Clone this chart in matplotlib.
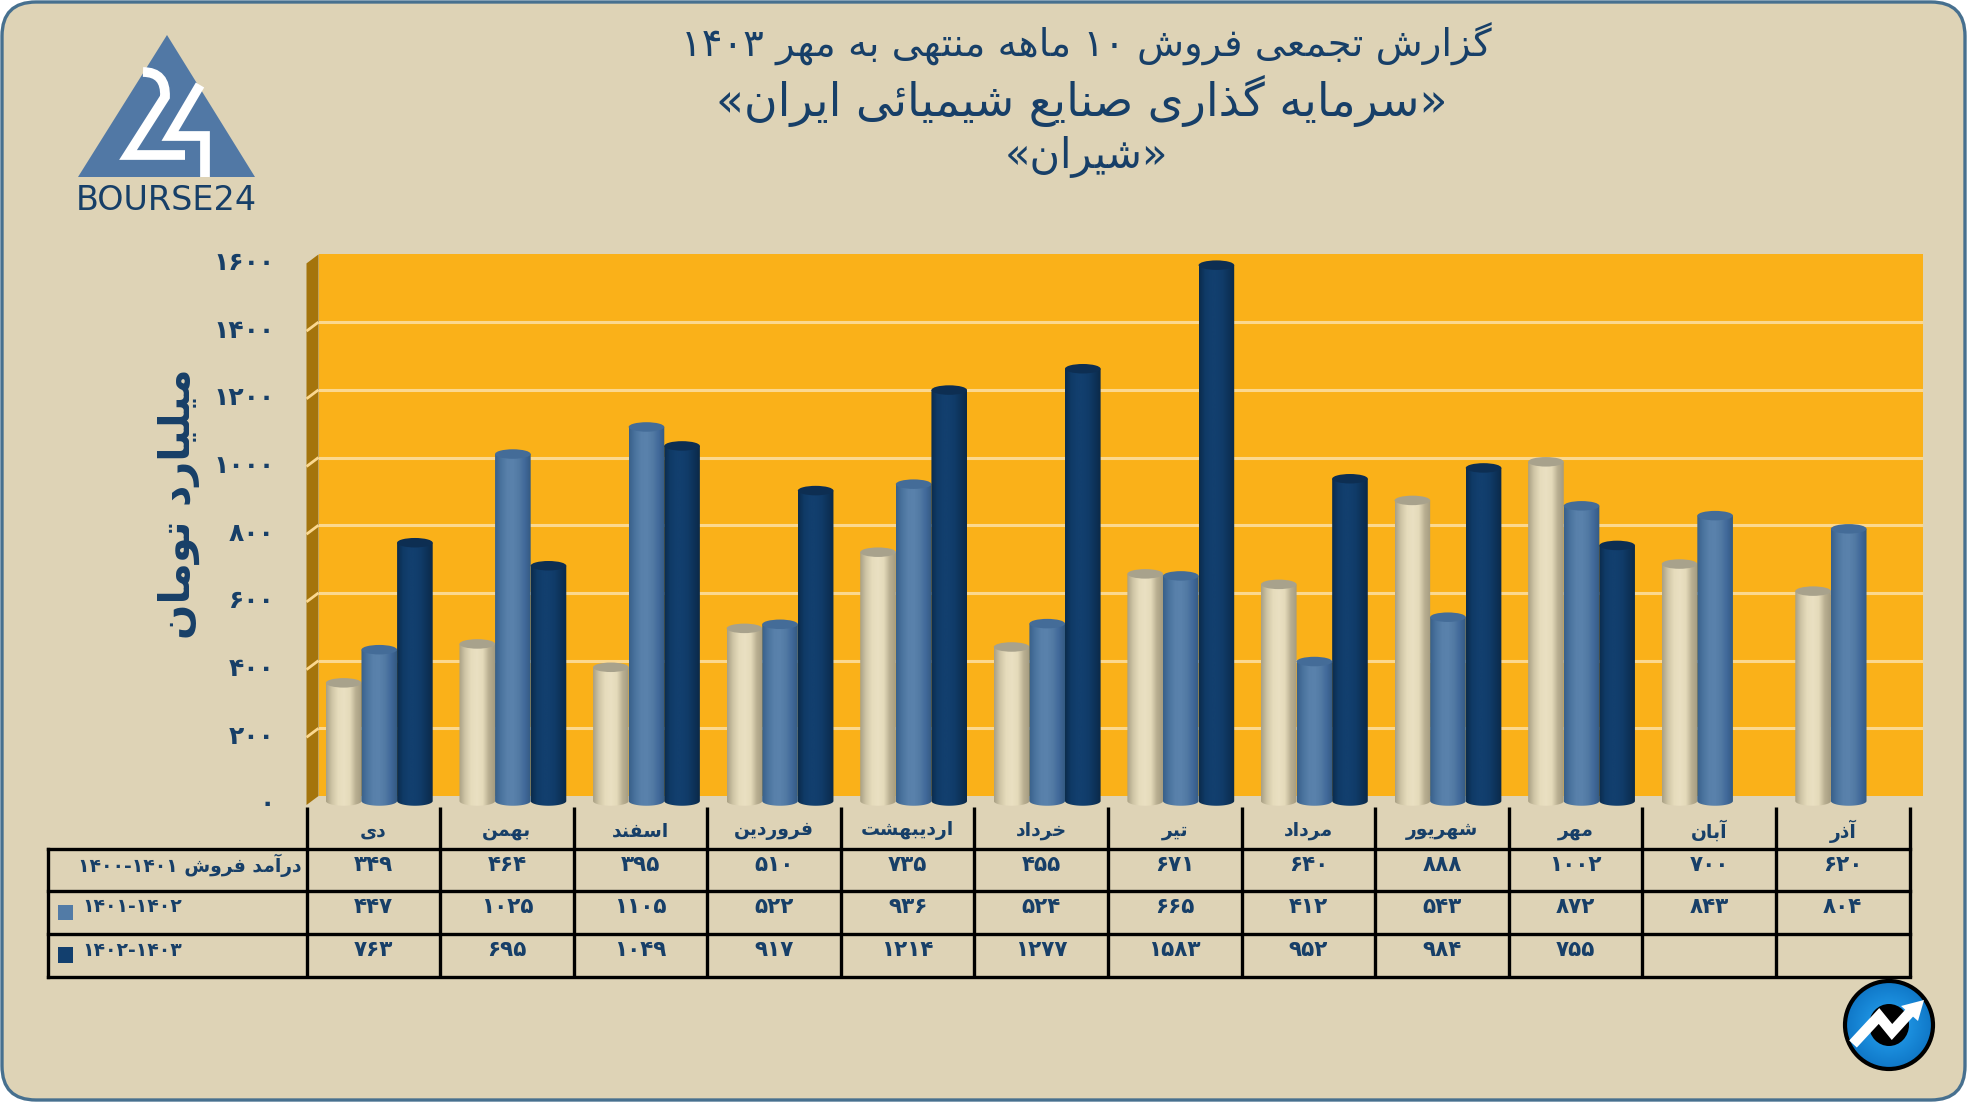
import numpy as np
import matplotlib
matplotlib.use("Agg")
import matplotlib.pyplot as plt
from matplotlib.patches import FancyBboxPatch, Polygon, Ellipse, Rectangle, Circle, PathPatch
from matplotlib.path import Path
from matplotlib.colors import LinearSegmentedColormap
from matplotlib.transforms import Affine2D

plt.rcParams['font.family'] = ['DejaVu Sans']

# ---------- data ----------
months = ["دی", "بهمن", "اسفند", "فروردین", "اردیبهشت", "خرداد", "تیر", "مرداد", "شهریور", "مهر", "آبان", "آذر"]
series_1400 = [349, 464, 395, 510, 735, 455, 671, 640, 888, 1002, 700, 620]
series_1401 = [447, 1025, 1105, 522, 936, 524, 665, 412, 543, 872, 843, 804]
series_1402 = [763, 695, 1049, 917, 1214, 1277, 1583, 952, 984, 755, None, None]
row_labels = ["درآمد فروش ۱۴۰۰-۱۴۰۱", "۱۴۰۱-۱۴۰۲", "۱۴۰۲-۱۴۰۳"]
y_ticks = [0, 200, 400, 600, 800, 1000, 1200, 1400, 1600]
title_lines = ["گزارش تجمعی فروش ۱۰ ماهه منتهی به مهر ۱۴۰۳", "«سرمایه گذاری صنایع شیمیائی ایران»", "«شیران»"]
y_label = "میلیارد تومان"

NAVY = "#173F68"

# ---------- Persian shaping (matplotlib does no shaping or bidi) ----------
FORMS = {  # isolated, final, initial, medial
    'ا': '\uFE8D\uFE8E', 'آ': '\uFE81\uFE82', 'د': '\uFEA9\uFEAA', 'ذ': '\uFEAB\uFEAC', 'ر': '\uFEAD\uFEAE',
    'ز': '\uFEAF\uFEB0', 'ژ': '\uFB8A\uFB8B', 'و': '\uFEED\uFEEE',
    'ب': '\uFE8F\uFE90\uFE91\uFE92', 'پ': '\uFB56\uFB57\uFB58\uFB59', 'ت': '\uFE95\uFE96\uFE97\uFE98',
    'ج': '\uFE9D\uFE9E\uFE9F\uFEA0', 'خ': '\uFEA5\uFEA6\uFEA7\uFEA8', 'س': '\uFEB1\uFEB2\uFEB3\uFEB4',
    'ش': '\uFEB5\uFEB6\uFEB7\uFEB8', 'ص': '\uFEB9\uFEBA\uFEBB\uFEBC', 'ع': '\uFEC9\uFECA\uFECB\uFECC',
    'ف': '\uFED1\uFED2\uFED3\uFED4', 'ک': '\uFB8E\uFB8F\uFB90\uFB91', 'گ': '\uFB92\uFB93\uFB94\uFB95',
    'ل': '\uFEDD\uFEDE\uFEDF\uFEE0', 'م': '\uFEE1\uFEE2\uFEE3\uFEE4', 'ن': '\uFEE5\uFEE6\uFEE7\uFEE8',
    'ه': '\uFEE9\uFEEA\uFEEB\uFEEC', 'ی': '\uFBFC\uFBFD\uFBFE\uFBFF', 'ئ': '\uFE89\uFE8A\uFE8B\uFE8C',
}
MIRROR = {'«': '»', '»': '«'}


def fa(text):
    out = []
    n = len(text)
    for i, c in enumerate(text):
        if c not in FORMS:
            out.append(MIRROR.get(c, c))
            continue
        f = FORMS[c]
        prev_joins = i > 0 and text[i - 1] in FORMS and len(FORMS[text[i - 1]]) == 4
        next_joins = i + 1 < n and text[i + 1] in FORMS and len(f) == 4
        if prev_joins and next_joins:
            out.append(f[3])
        elif prev_joins:
            out.append(f[1])
        elif next_joins:
            out.append(f[2])
        else:
            out.append(f[0])
    # visual order: reverse everything, keep digit runs left to right
    vis = []
    run = ""
    for c in "".join(out):
        if c in "۰۱۲۳۴۵۶۷۸۹-":
            run += c
        else:
            if run:
                vis.append(run)
                run = ""
            vis.append(c)
    if run:
        vis.append(run)
    return "".join(reversed(vis))


def fa_num(v):
    return str(v).translate(str.maketrans("0123456789", "۰۱۲۳۴۵۶۷۸۹"))


# ---------- figure and pixel layout ----------
W, H = 1967, 1102
fig = plt.figure(figsize=(W / 100, H / 100), dpi=100, facecolor="white")


def axes_px(x0, x1, ybot, ytop, **kw):
    return fig.add_axes([x0 / W, 1 - ybot / H, (x1 - x0) / W, (ybot - ytop) / H], **kw)


def pixel_canvas(z):
    a = fig.add_axes([0, 0, 1, 1], zorder=z)
    a.set_xlim(0, W)
    a.set_ylim(H, 0)
    a.axis("off")
    return a


under = pixel_canvas(0)
canvas = pixel_canvas(5)

under.add_patch(FancyBboxPatch((2, 2), W - 4, H - 4, boxstyle="round,pad=0,rounding_size=34",
                               fc="#DED3B6", ec="#47708F", lw=2.4))

# chart geometry
FX0, FX1 = 306.5, 1909.5        # front plane, columns of the table
FY0 = 805.0
PX_PER_UNIT = 67.7 / 200
DX, DY = 12, 9                   # depth of the 3-D box
TOP = 1600

# side wall
under.add_patch(Polygon([(FX0, FY0), (FX0 + DX, FY0 - DY), (FX0 + DX, FY0 - DY - TOP * PX_PER_UNIT),
                         (FX0, FY0 - TOP * PX_PER_UNIT)], closed=True, fc="#A4740C", ec="none"))

# back wall
back = axes_px(FX0 + DX, 1922.5, FY0 - DY, FY0 - DY - TOP * PX_PER_UNIT, zorder=1)
back.set_facecolor("#FAB119")
back.set_xlim(0, 1)
back.set_ylim(0, TOP)
back.set_yticks(y_ticks[1:-1])
back.set_xticks([])
back.tick_params(left=False, labelleft=False)
for s in back.spines.values():
    s.set_visible(False)
back.grid(axis="y", color="#FBD88F", lw=2.2)
back.set_axisbelow(True)

# slanted gridlines on the side wall
for v in y_ticks[1:-1]:
    y = FY0 - v * PX_PER_UNIT
    under.plot([FX0, FX0 + DX], [y, y - DY], color="#FBD88F", lw=2.0, solid_capstyle="butt", zorder=3)

# front axes: labels on the y axis
front = axes_px(FX0, FX1, FY0, FY0 - TOP * PX_PER_UNIT, zorder=2)
front.patch.set_alpha(0)
front.set_xlim(0, 12)
front.set_ylim(0, TOP)
for s in front.spines.values():
    s.set_visible(False)
front.set_xticks([])
front.set_yticks(y_ticks)
front.set_yticklabels([fa_num(v) for v in y_ticks], fontsize=18, fontweight="bold", color=NAVY)
front.tick_params(axis="y", length=0, pad=23)
for lbl in front.get_yticklabels():
    lbl.set_transform(lbl.get_transform() + Affine2D().translate(0, 3))

# cylinders
bars = axes_px(FX0 + 6, FX1 + 6, FY0 - 4 + 40 * PX_PER_UNIT, FY0 - 4 - TOP * PX_PER_UNIT, zorder=3)
bars.patch.set_alpha(0)
bars.axis("off")
XL, YL = (0, 12), (-40, TOP)
BW = 35.6 / ((FX1 - FX0) / 12)
EH = 9.5 / PX_PER_UNIT            # ellipse height in value units

styles = [
    (series_1400, ["#A9A084", "#CFC5A6", "#E6DCBC", "#EAE0C2", "#E4DABA", "#B9AF91", "#A49B80"], "#A8A28C"),
    (series_1401, ["#38608A", "#4A739E", "#5880AA", "#5A82AC", "#527AA4", "#41699A", "#345A82"], "#446C98"),
    (series_1402, ["#0B2B4C", "#0F3A66", "#123F6E", "#123F6E", "#103B68", "#0D3259", "#0B2947"], "#0D2E52"),
]
grad = np.linspace(0, 1, 128).reshape(1, -1)
theta = np.linspace(np.pi, 2 * np.pi, 40)
for k, (vals, stops, top_col) in enumerate(styles):
    cmap = LinearSegmentedColormap.from_list(f"cyl{k}", stops)
    for i, v in enumerate(vals):
        if v is None:
            continue
        xc = i + 0.5 + (k - 1) * BW
        x0, x1 = xc - BW / 2, xc + BW / 2
        im = bars.imshow(grad, extent=[x0, x1, -EH, v], cmap=cmap, aspect="auto",
                         interpolation="bilinear", zorder=3 + k)
        arc = np.column_stack([xc + BW / 2 * np.cos(theta), EH / 2 * np.sin(theta)])
        outline = np.vstack([[(x0, v)], arc, [(x1, v)], [(x0, v)]])
        im.set_clip_path(Path(outline, closed=True), bars.transData)
        bars.add_patch(Ellipse((xc, v), BW, EH, fc=top_col, ec="none", zorder=3 + k + 0.5))
bars.set_xlim(*XL)
bars.set_ylim(*YL)

# y label
canvas.text(179, 504, fa(y_label), rotation=90, ha="center", va="center", fontsize=30, fontweight="bold",
            color=NAVY, zorder=5)

# ---------- table ----------
COLW = (FX1 - FX0) / 12
col_x = [FX0 + COLW * i for i in range(13)]
ROW_Y = [849, 891, 934, 977]
TOP_Y = 807
LEFT_X = 48
LW = 2.4
for x in col_x:
    canvas.plot([x, x], [TOP_Y, ROW_Y[-1]], color="black", lw=LW, solid_capstyle="butt", zorder=6)
for y in ROW_Y:
    canvas.plot([LEFT_X, FX1], [y, y], color="black", lw=LW, solid_capstyle="projecting", zorder=6)
canvas.plot([LEFT_X, LEFT_X], [ROW_Y[0], ROW_Y[-1]], color="black", lw=LW, solid_capstyle="projecting", zorder=6)

txt = dict(ha="center", va="center", color=NAVY, zorder=7, fontweight="bold")
for i, m in enumerate(months):
    xc = col_x[i] + COLW / 2
    canvas.text(xc, 831, fa(m), fontsize=13.5, **txt)
    for vals, y in zip((series_1400, series_1401, series_1402), (865, 907, 950)):
        if vals[i] is not None:
            canvas.text(xc, y, fa_num(vals[i]), fontsize=15.5, **txt)

canvas.text(302, 865, fa(row_labels[0]), fontsize=13.5, ha="right", va="center", color=NAVY,
            fontweight="bold", zorder=7)
canvas.text(82, 907, fa(row_labels[1]), fontsize=13.5, ha="left", va="center", color=NAVY,
            fontweight="bold", zorder=7)
canvas.text(82, 950, fa(row_labels[2]), fontsize=13.5, ha="left", va="center", color=NAVY,
            fontweight="bold", zorder=7)
canvas.add_patch(Rectangle((58, 905), 15, 15, fc="#527BA6", ec="none", zorder=7))
canvas.add_patch(Rectangle((58, 947), 15, 16, fc="#123F6E", ec="none", zorder=7))

# ---------- titles ----------
for line, y, size, cx in zip(title_lines, (44, 101, 157), (27.7, 33, 30), (1086, 1082, 1086)):
    canvas.text(cx, y, fa(line), fontsize=size, ha="center", va="center", color=NAVY, zorder=7)

# ---------- logo ----------
canvas.add_patch(Polygon([(167, 35), (78, 177), (255, 177)], closed=True, fc="#5178A5", ec="none", zorder=4))
two = Path([(143, 72), (166, 72), (165, 97), (128, 155), (185, 155)],
           [Path.MOVETO, Path.CURVE3, Path.CURVE3, Path.LINETO, Path.LINETO])
canvas.add_patch(PathPatch(two, fc="none", ec="white", lw=7, capstyle="butt", joinstyle="miter", zorder=5))
canvas.plot([200, 170, 205, 205], [85, 136, 136, 177], color="white", lw=7, solid_capstyle="butt",
            solid_joinstyle="miter", zorder=5)
canvas.text(166, 200, "BOURSE24", fontsize=24, color=NAVY, ha="center", va="center", zorder=5)

# ---------- badge ----------
badge_im = canvas.imshow(
    np.hypot(*np.meshgrid(np.linspace(-1, 1, 100), np.linspace(-1, 1, 100))),
    extent=[1844, 1934, 1070, 980], cmap=LinearSegmentedColormap.from_list("b", ["#3FA9EC", "#1B8EDD", "#0F76C6"]),
    zorder=8, aspect="auto", vmin=0, vmax=1)
badge = Circle((1889, 1025), 44, fc="none", ec="black", lw=3, zorder=9)
canvas.add_patch(badge)
badge_im.set_clip_path(badge)
canvas.add_patch(Ellipse((1889, 1025), 40, 42, fc="black", ec="none", zorder=9))
canvas.plot([1853, 1879, 1892, 1912], [1044, 1016, 1032, 1010], color="white", lw=7.5,
            solid_joinstyle="miter", solid_capstyle="butt", zorder=10)
canvas.add_patch(Polygon([(1924, 1000), (1918, 1021), (1901, 1006)], closed=True, fc="white", ec="none", zorder=10))
canvas.set_xlim(0, W)
canvas.set_ylim(H, 0)

fig.savefig("out.png", dpi=100, facecolor="white")
